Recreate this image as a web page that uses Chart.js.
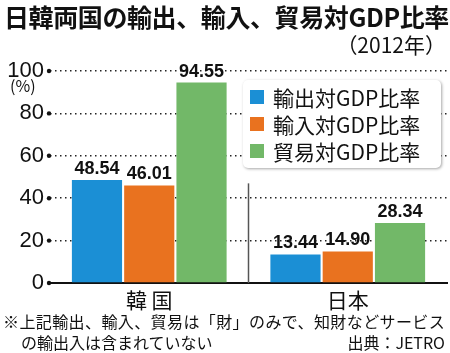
<!DOCTYPE html>
<html lang="ja">
<head>
<meta charset="UTF-8">
<title>日韓両国の輸出、輸入、貿易対GDP比率</title>
<script src="https://cdn.jsdelivr.net/npm/chart.js"></script>
<style>
  body { margin: 0; background: #fff; font-family: "Noto Sans CJK JP", sans-serif; color: #111; }
  .wrap { position: relative; width: 450px; height: 353px; overflow: hidden; }
  canvas { position: absolute; left: 0; top: 0; }
  .t { position: absolute; white-space: nowrap; line-height: 1; }
  #title { left: 4px; top: 4px; font-size: 25px; font-weight: bold; letter-spacing: -0.4px; }
  #sub { right: 4px; top: 34px; font-size: 21px; }
  #pct { left: 10px; top: 77px; font-size: 16px; }
  #note1 { left: 3px; top: 313px; font-size: 16px; letter-spacing: 0.4px; }
  #note2 { left: 21px; top: 334px; font-size: 16px; }
  #src { right: 5px; top: 334px; font-size: 16px; }
</style>
</head>
<body>
<div class="wrap">
  <canvas id="c" width="450" height="353"></canvas>
  <div class="t" id="title">日韓両国の輸出、輸入、貿易対GDP比率</div>
  <div class="t" id="sub">（2012年）</div>
  <div class="t" id="pct">(%)</div>
  <div class="t" id="note1">※上記輸出、輸入、貿易は「財」のみで、知財などサービス</div>
  <div class="t" id="note2">の輸出入は含まれていない</div>
  <div class="t" id="src">出典：JETRO</div>
</div>
<script>
  const countries = ['韓 国', '日本'];
  const exportRatio = [48.54, 13.44];
  const importRatio = [46.01, 14.90];
  const tradeRatio = [94.55, 28.34];
  const seriesNames = ['輸出対GDP比率', '輸入対GDP比率', '貿易対GDP比率'];
  const colors = ['#1b8fd5', '#e9721f', '#72b868'];

  // 棒の上の数値
  const valueLabels = {
    id: 'valueLabels',
    afterDatasetsDraw(chart) {
      const ctx = chart.ctx;
      ctx.save();
      ctx.font = 'bold 18px "Liberation Sans", sans-serif';
      ctx.fillStyle = '#111';
      ctx.textAlign = 'center';
      ctx.textBaseline = 'bottom';
      chart.data.datasets.forEach((ds, i) => {
        chart.getDatasetMeta(i).data.forEach((bar, j) => {
          ctx.fillText(ds.data[j].toFixed(2), bar.x, bar.y - 2);
        });
      });
      ctx.restore();
    }
  };

  // 目盛りの黒丸、区切り線、凡例
  const extras = {
    id: 'extras',
    afterDraw(chart) {
      const ctx = chart.ctx;
      const y = chart.scales.y, x = chart.scales.x;
      const a = chart.chartArea;
      ctx.save();
      ctx.fillStyle = '#111';
      y.ticks.forEach(t => {
        ctx.beginPath();
        ctx.arc(a.left - 1, y.getPixelForValue(t.value), 2.2, 0, Math.PI * 2);
        ctx.fill();
      });
      // 区切り線
      const mx = (x.getPixelForValue(0) + x.getPixelForValue(1)) / 2;
      ctx.strokeStyle = '#555';
      ctx.lineWidth = 1.5;
      ctx.beginPath();
      ctx.moveTo(mx, y.getPixelForValue(47));
      ctx.lineTo(mx, y.getPixelForValue(0));
      ctx.stroke();
      // 凡例
      const lx = 243, ly = 80, lw = 198, lh = 88;
      ctx.shadowColor = 'rgba(0,0,0,0.35)';
      ctx.shadowBlur = 3;
      ctx.shadowOffsetX = 1;
      ctx.shadowOffsetY = 1;
      ctx.fillStyle = '#fff';
      ctx.beginPath();
      ctx.roundRect(lx, ly, lw, lh, 5);
      ctx.fill();
      ctx.shadowColor = 'transparent';
      ctx.font = '21px "Noto Sans CJK JP", sans-serif';
      ctx.textBaseline = 'middle';
      ctx.textAlign = 'left';
      chart.data.datasets.forEach((ds, i) => {
        const cy = ly + 17 + i * 27;
        ctx.fillStyle = ds.backgroundColor;
        ctx.fillRect(lx + 7, cy - 7, 14, 14);
        ctx.fillStyle = '#111';
        ctx.fillText(ds.label, lx + 30, cy + 1);
      });
      ctx.restore();
    }
  };

  new Chart(document.getElementById('c'), {
    type: 'bar',
    data: {
      labels: countries,
      datasets: [
        { label: seriesNames[0], data: exportRatio, backgroundColor: colors[0] },
        { label: seriesNames[1], data: importRatio, backgroundColor: colors[1] },
        { label: seriesNames[2], data: tradeRatio, backgroundColor: colors[2] }
      ]
    },
    options: {
      responsive: false,
      animation: false,
      categoryPercentage: 0.79,
      barPercentage: 0.96,
      layout: { padding: { top: 71, right: 3, bottom: 40, left: 0 } },
      plugins: { legend: { display: false }, tooltip: { enabled: false } },
      scales: {
        x: {
          grid: { display: false },
          border: { display: true, color: '#111', width: 2 },
          ticks: { color: '#111', font: { size: 21, family: '"Noto Sans CJK JP", sans-serif', lineHeight: 1 }, padding: -1 },
          afterFit: s => { s.height = 30; }
        },
        y: {
          min: 0, max: 100,
          ticks: { stepSize: 20, color: '#111', font: { size: 22, family: '"Liberation Sans", sans-serif' }, padding: 6 },
          grid: { color: '#222', lineWidth: 1.5, drawTicks: false },
          border: { display: false, dash: [1.5, 3.5] },
          afterFit: s => { s.width = 50; }
        }
      }
    },
    plugins: [valueLabels, extras]
  });
</script>
</body>
</html>
